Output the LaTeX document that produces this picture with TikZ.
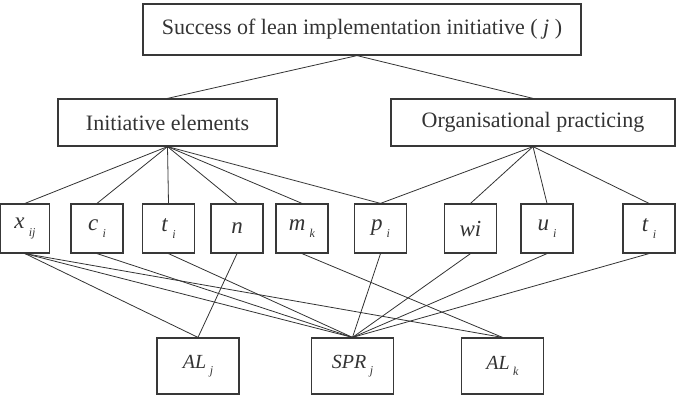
\documentclass[tikz,border=0pt]{standalone}
\usepackage{fontspec}
\setmainfont{Liberation Serif}
\newcommand{\lbl}[2]{\textit{#1}\kern0.18em\raisebox{-0.7ex}{\fontsize{12}{12}\selectfont\textit{#2}}}
\begin{document}
\begin{tikzpicture}[x=1pt,y=-1pt,
  box/.style={draw=black!78,line width=1.2pt,inner sep=0pt,text=black!80,font=\fontsize{22}{22}\selectfont},
  sbox/.style={box,minimum width=52pt,minimum height=49pt,font=\fontsize{23}{23}\selectfont},
  bbox/.style={box,minimum width=82pt,minimum height=56pt,font=\fontsize{20}{20}\selectfont},
  link/.style={draw=black!80,line width=0.8pt}]
\useasboundingbox (0,0) rectangle (677,403);
\node[box,minimum width=438pt,minimum height=51pt] (top) at (362,29.5) {Success of lean implementation initiative ( \textit{j} )};
\node[box,minimum width=219pt,minimum height=47pt] (init) at (167.5,122.5) {Initiative elements};
\node[box,minimum width=284pt,minimum height=47pt] (org) at (533,122.5) {Organisational practicing};
\node[sbox,minimum width=48.5pt] (xij) at (25,228.5) {\lbl{x}{ij}};
\node[sbox] (ci) at (97,228.5) {\lbl{c}{i}};
\node[sbox] (ti) at (168.5,228.5) {\lbl{t}{i}};
\node[sbox] (n) at (237,228.5) {\textit{n}};
\node[sbox] (mk) at (302,228.5) {\lbl{m}{k}};
\node[sbox] (pi) at (380.5,228.5) {\lbl{p}{i}};
\node[sbox] (wi) at (470.5,228.5) {\textit{wi}};
\node[sbox] (ui) at (547,228.5) {\lbl{u}{i}};
\node[sbox] (tii) at (649,228.5) {\lbl{t}{i}};
\node[bbox] (alj) at (198,366) {\lbl{AL}{j}};
\node[bbox] (sprj) at (352.5,366) {\lbl{SPR}{j}};
\node[bbox] (alk) at (502.5,366) {\lbl{AL}{k}};
\coordinate (topb) at ([xshift=-5pt]top.south);
\draw[link] (init.north) -- (topb) -- (org.north);
\foreach \t in {xij,ci,ti,n,mk,pi} \draw[link] (init.south) -- (\t.north);
\foreach \t in {pi,wi,ui,tii} \draw[link] (org.south) -- (\t.north);
\foreach \t in {alj,sprj,alk} \draw[link] (xij.south) -- (\t.north);
\foreach \s in {ci,ti,pi,wi,ui,tii} \draw[link] (\s.south) -- (sprj.north);
\draw[link] (n.south) -- (alj.north);
\draw[link] (mk.south) -- (alk.north);
\end{tikzpicture}
\end{document}
